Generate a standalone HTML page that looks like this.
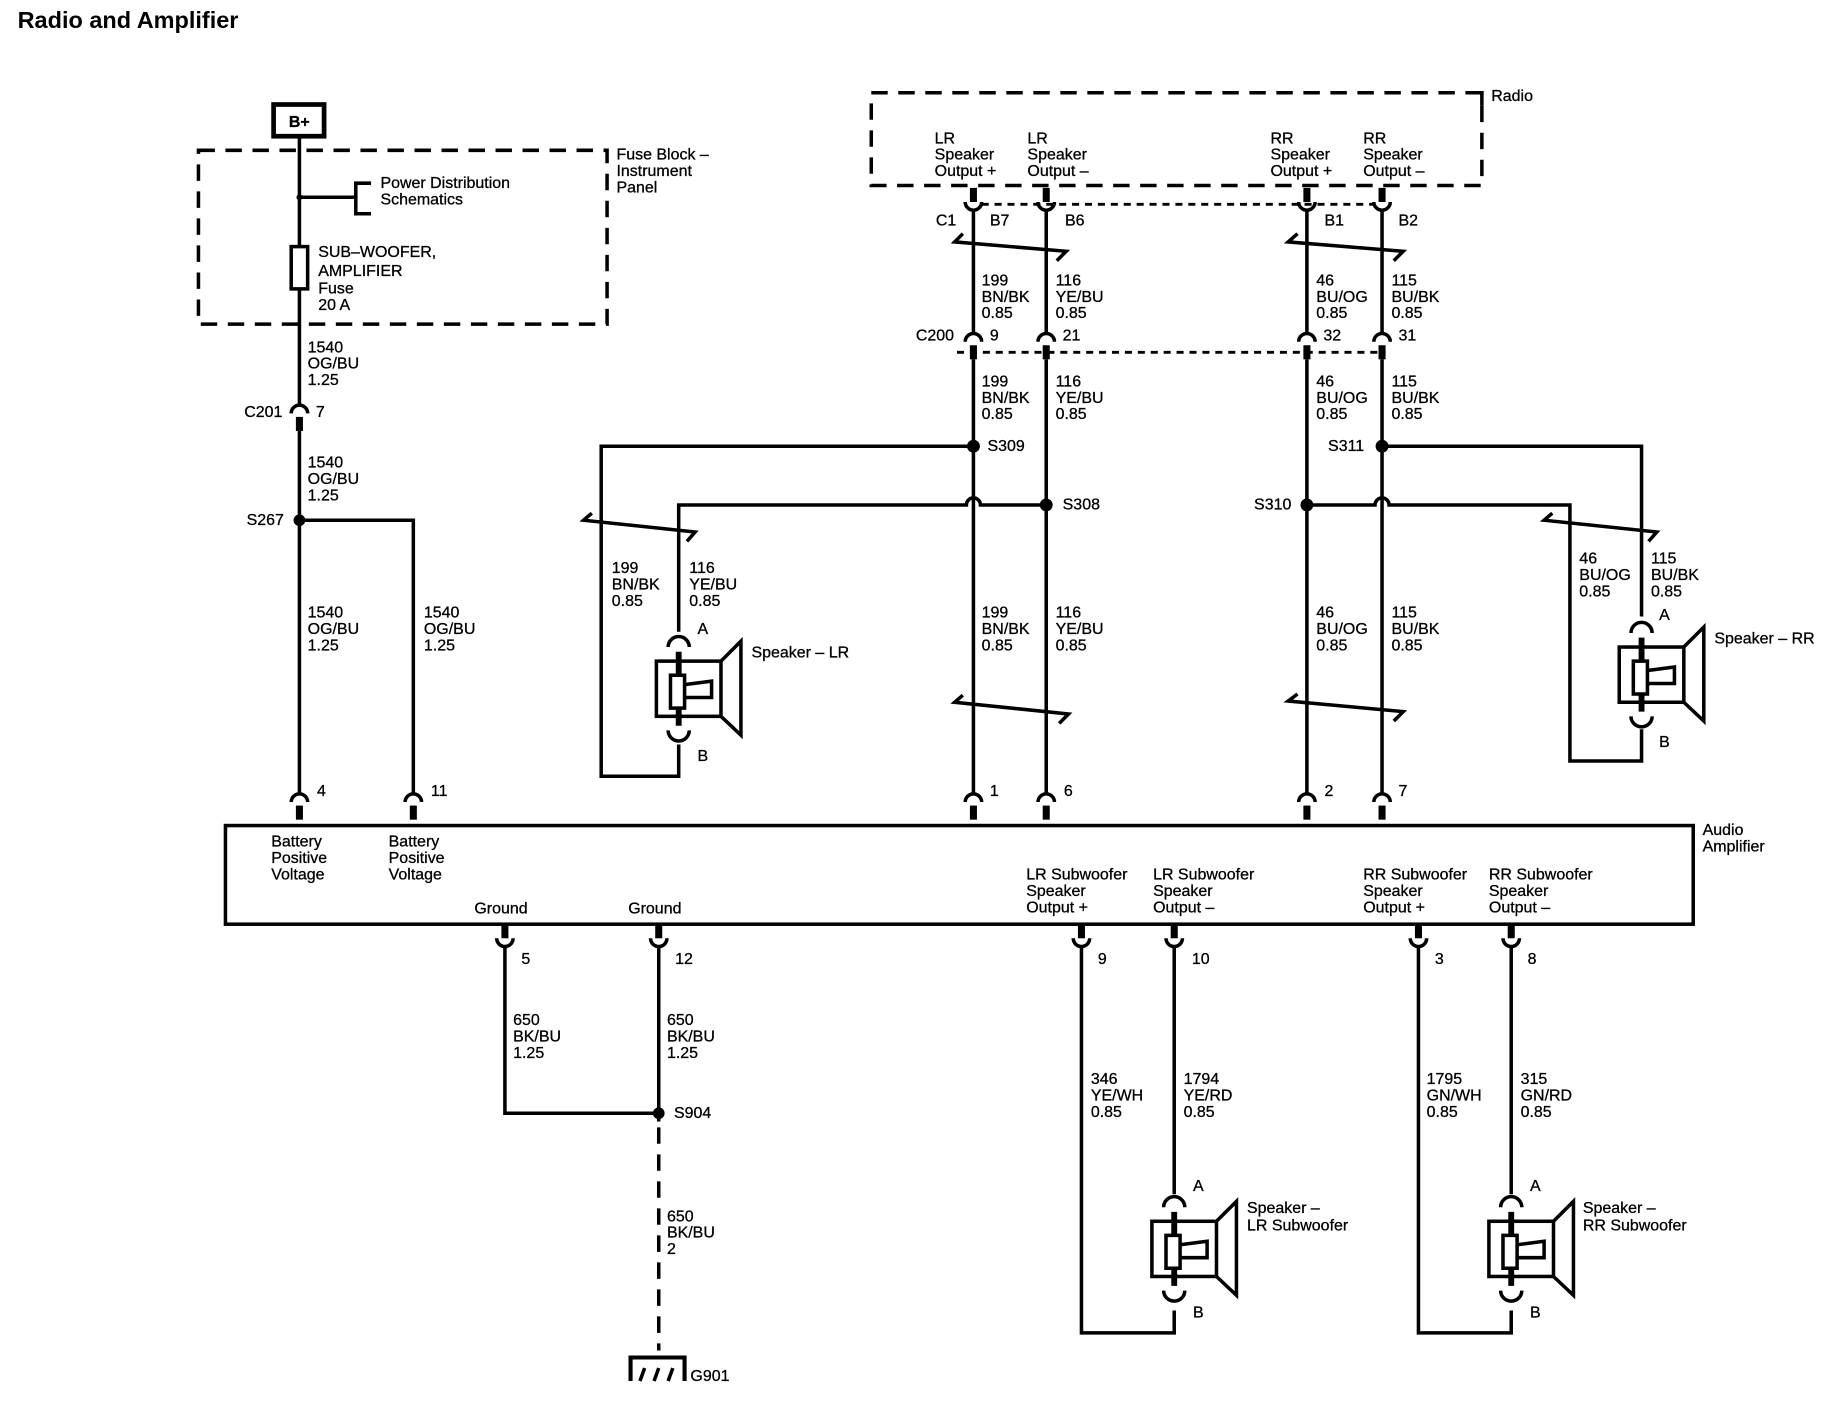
<!DOCTYPE html>
<html><head><meta charset="utf-8"><style>
html,body{margin:0;padding:0;background:#fff;}
svg{display:block;}
text{font-family:"Liberation Sans",sans-serif;font-size:13.6px;fill:#000;stroke:#000;stroke-width:0.25;}
.w{stroke:#000;stroke-width:3;fill:none;}
.st{stroke:#000;stroke-width:6;fill:none;}
.d{stroke:#000;stroke-width:3;fill:none;stroke-dasharray:14 9;}
.dt{stroke:#000;stroke-width:2.5;fill:none;stroke-dasharray:6 5;}
</style></head><body>
<svg width="1840" height="1408" viewBox="0 0 1567 1199" preserveAspectRatio="none" xmlns="http://www.w3.org/2000/svg">
<defs>
<g id="spk">
<path class="w" d="M-9,-12 A9,9 0 0 1 9,-12"/>
<line x1="0" y1="-8" x2="0" y2="55" stroke="#000" stroke-width="5"/>
<rect x="-19" y="0" width="55" height="47" class="w"/>
<rect x="-7" y="12" width="12" height="28" fill="#fff" stroke="#000" stroke-width="3"/>
<path d="M5,20 L28,17 L28,31 L5,31" class="w"/>
<path d="M36,0 L53,-17 L53,63 L36,47" class="w"/>
<path class="w" d="M-9,59 A9,9 0 0 0 9,59"/>
</g>
<g id="ctop"><path class="w" d="M-7,5 A7,7 0 0 1 7,5"/><line x1="0" y1="8" x2="0" y2="20" class="st"/></g>
<g id="cbot"><line x1="0" y1="0" x2="0" y2="12" class="st"/><path class="w" d="M-7,12 A7,7 0 0 0 7,12"/></g>
</defs>

<text x="15" y="24" style="font-size:20px;font-weight:bold;stroke-width:0">Radio and Amplifier</text>

<!-- B+ -->
<rect x="233" y="89" width="43" height="27" fill="none" stroke="#000" stroke-width="4"/>
<text x="246" y="108" style="font-weight:bold">B+</text>
<rect x="169" y="128" width="348" height="148" class="d"/>
<text x="525" y="136">Fuse Block –</text><text x="525" y="150">Instrument</text><text x="525" y="164">Panel</text>
<line x1="255" y1="117" x2="255" y2="345" class="w"/>
<circle cx="255" cy="168" r="2.5"/>
<line x1="255" y1="168" x2="303" y2="168" class="w"/>
<path d="M316,156 L303,156 L303,182 L316,182" class="w"/>
<text x="324" y="160">Power Distribution</text><text x="324" y="174">Schematics</text>
<rect x="248" y="210" width="14" height="36" fill="#fff" stroke="#000" stroke-width="3"/>
<text x="271" y="219">SUB–WOOFER,</text><text x="271" y="235">AMPLIFIER</text><text x="271" y="250">Fuse</text><text x="271" y="264">20 A</text>
<text x="262" y="300">1540</text><text x="262" y="314">OG/BU</text><text x="262" y="328">1.25</text>
<use href="#ctop" x="255" y="347"/>
<text x="208" y="355">C201</text><text x="269" y="355">7</text>
<line x1="255" y1="367" x2="255" y2="676" class="w"/>
<text x="262" y="398">1540</text><text x="262" y="412">OG/BU</text><text x="262" y="426">1.25</text>
<circle cx="255" cy="443" r="5"/>
<text x="210" y="447">S267</text>
<path d="M255,443 L352,443 L352,676" class="w"/>
<text x="262" y="526">1540</text><text x="262" y="540">OG/BU</text><text x="262" y="554">1.25</text>
<text x="361" y="526">1540</text><text x="361" y="540">OG/BU</text><text x="361" y="554">1.25</text>
<use href="#ctop" x="255" y="678"/><text x="270" y="678">4</text>
<use href="#ctop" x="352" y="678"/><text x="367" y="678">11</text>

<!-- Amplifier -->
<rect x="192" y="703" width="1250" height="84" class="w"/>
<text x="1450" y="711">Audio</text><text x="1450" y="725">Amplifier</text>
<text x="231" y="721">Battery</text><text x="231" y="735">Positive</text><text x="231" y="749">Voltage</text>
<text x="331" y="721">Battery</text><text x="331" y="735">Positive</text><text x="331" y="749">Voltage</text>
<text x="404" y="778">Ground</text><text x="535" y="778">Ground</text>
<text x="874" y="749">LR Subwoofer</text><text x="874" y="763">Speaker</text><text x="874" y="777">Output +</text>
<text x="982" y="749">LR Subwoofer</text><text x="982" y="763">Speaker</text><text x="982" y="777">Output –</text>
<text x="1161" y="749">RR Subwoofer</text><text x="1161" y="763">Speaker</text><text x="1161" y="777">Output +</text>
<text x="1268" y="749">RR Subwoofer</text><text x="1268" y="763">Speaker</text><text x="1268" y="777">Output –</text>

<!-- Grounds -->
<use href="#cbot" x="430" y="787"/><text x="444" y="821">5</text>
<use href="#cbot" x="561" y="787"/><text x="575" y="821">12</text>
<path d="M430,806 L430,948 L561,948" class="w"/>
<line x1="561" y1="806" x2="561" y2="955" class="w"/>
<circle cx="561" cy="948" r="5"/>
<text x="574" y="952">S904</text>
<text x="437" y="873">650</text><text x="437" y="887">BK/BU</text><text x="437" y="901">1.25</text>
<text x="568" y="873">650</text><text x="568" y="887">BK/BU</text><text x="568" y="901">1.25</text>
<line x1="561" y1="960" x2="561" y2="1150" stroke="#000" stroke-width="3" stroke-dasharray="14 9"/>
<text x="568" y="1040">650</text><text x="568" y="1054">BK/BU</text><text x="568" y="1068">2</text>
<path d="M537,1176 L537,1156 L583,1156 L583,1176" stroke="#000" stroke-width="3.5" fill="none"/>
<path d="M545,1176 L549,1165 M557,1176 L561,1165 M569,1176 L573,1165" stroke="#000" stroke-width="3" fill="none"/>
<text x="588" y="1176">G901</text>

<!-- Radio -->
<path d="M1262,79 L742,79 L742,158 L1262,158 L1262,79" class="d"/>
<path d="M1256,79 L1262,79 L1262,90" stroke="#000" stroke-width="3" fill="none"/>
<text x="1270" y="86">Radio</text>
<text x="796" y="122">LR</text><text x="796" y="136">Speaker</text><text x="796" y="150">Output +</text>
<text x="875" y="122">LR</text><text x="875" y="136">Speaker</text><text x="875" y="150">Output –</text>
<text x="1082" y="122">RR</text><text x="1082" y="136">Speaker</text><text x="1082" y="150">Output +</text>
<text x="1161" y="122">RR</text><text x="1161" y="136">Speaker</text><text x="1161" y="150">Output –</text>
<line x1="836" y1="174" x2="1170" y2="174" class="dt"/>
<use href="#cbot" x="829" y="160"/><use href="#cbot" x="891" y="160"/><use href="#cbot" x="1113" y="160"/><use href="#cbot" x="1177" y="160"/>
<text x="797" y="192">C1</text><text x="843" y="192">B7</text><text x="907" y="192">B6</text><text x="1128" y="192">B1</text><text x="1191" y="192">B2</text>
<line x1="829" y1="179" x2="829" y2="284" class="w"/>
<line x1="891" y1="179" x2="891" y2="284" class="w"/>
<line x1="1113" y1="179" x2="1113" y2="284" class="w"/>
<line x1="1177" y1="179" x2="1177" y2="284" class="w"/>
<path d="M820,199 L813,206 L908,214 L900,222" class="w"/>
<path d="M1105,199 L1097,206 L1195,214 L1187,222" class="w"/>
<text x="836" y="243">199</text><text x="836" y="257">BN/BK</text><text x="836" y="271">0.85</text>
<text x="899" y="243">116</text><text x="899" y="257">YE/BU</text><text x="899" y="271">0.85</text>
<text x="1121" y="243">46</text><text x="1121" y="257">BU/OG</text><text x="1121" y="271">0.85</text>
<text x="1185" y="243">115</text><text x="1185" y="257">BU/BK</text><text x="1185" y="271">0.85</text>
<line x1="815" y1="300" x2="1180" y2="300" class="dt"/>
<use href="#ctop" x="829" y="286"/><use href="#ctop" x="891" y="286"/><use href="#ctop" x="1113" y="286"/><use href="#ctop" x="1177" y="286"/>
<text x="780" y="290">C200</text><text x="843" y="290">9</text><text x="905" y="290">21</text><text x="1127" y="290">32</text><text x="1191" y="290">31</text>
<text x="836" y="329">199</text><text x="836" y="343">BN/BK</text><text x="836" y="357">0.85</text>
<text x="899" y="329">116</text><text x="899" y="343">YE/BU</text><text x="899" y="357">0.85</text>
<text x="1121" y="329">46</text><text x="1121" y="343">BU/OG</text><text x="1121" y="357">0.85</text>
<text x="1185" y="329">115</text><text x="1185" y="343">BU/BK</text><text x="1185" y="357">0.85</text>

<line x1="829" y1="306" x2="829" y2="676" class="w"/>
<line x1="891" y1="306" x2="891" y2="676" class="w"/>
<line x1="1113" y1="306" x2="1113" y2="676" class="w"/>
<line x1="1177" y1="306" x2="1177" y2="676" class="w"/>

<!-- LR speaker wiring -->
<circle cx="829" cy="380" r="5.5"/><text x="841" y="384">S309</text>
<path d="M829,380 L512,380 L512,661 L578,661 L578,634" class="w"/>
<circle cx="891" cy="430" r="5.5"/><text x="905" y="434">S308</text>
<path d="M891,430 L835,430 A6,6 0 0 0 823,430 L578,430 L578,538" class="w"/>
<path d="M504,437 L497,443 L592,453 L585,461" class="w"/>
<text x="521" y="488">199</text><text x="521" y="502">BN/BK</text><text x="521" y="516">0.85</text>
<text x="587" y="488">116</text><text x="587" y="502">YE/BU</text><text x="587" y="516">0.85</text>
<use href="#spk" x="578" y="563"/>
<text x="594" y="540">A</text><text x="594" y="648">B</text>
<text x="640" y="560">Speaker – LR</text>

<!-- RR speaker wiring -->
<circle cx="1177" cy="380" r="5.5"/><text x="1131" y="384">S311</text>
<path d="M1177,380 L1398,380 L1398,525" class="w"/>
<circle cx="1113" cy="430" r="5.5"/><text x="1068" y="434">S310</text>
<path d="M1113,430 L1171,430 A6,6 0 0 1 1183,430 L1337,430 L1337,648 L1398,648 L1398,621" class="w"/>
<path d="M1322,437 L1315,443 L1411,453 L1404,461" class="w"/>
<text x="1345" y="480">46</text><text x="1345" y="494">BU/OG</text><text x="1345" y="508">0.85</text>
<text x="1406" y="480">115</text><text x="1406" y="494">BU/BK</text><text x="1406" y="508">0.85</text>
<use href="#spk" x="1398" y="551"/>
<text x="1413" y="528">A</text><text x="1413" y="636">B</text>
<text x="1460" y="548">Speaker – RR</text>

<!-- lower main labels -->
<text x="836" y="526">199</text><text x="836" y="540">BN/BK</text><text x="836" y="554">0.85</text>
<text x="899" y="526">116</text><text x="899" y="540">YE/BU</text><text x="899" y="554">0.85</text>
<text x="1121" y="526">46</text><text x="1121" y="540">BU/OG</text><text x="1121" y="554">0.85</text>
<text x="1185" y="526">115</text><text x="1185" y="540">BU/BK</text><text x="1185" y="554">0.85</text>
<path d="M820,592 L813,598 L910,608 L902,616" class="w"/>
<path d="M1105,591 L1097,597 L1195,606 L1187,614" class="w"/>
<use href="#ctop" x="829" y="678"/><use href="#ctop" x="891" y="678"/><use href="#ctop" x="1113" y="678"/><use href="#ctop" x="1177" y="678"/>
<text x="843" y="678">1</text><text x="906" y="678">6</text><text x="1128" y="678">2</text><text x="1191" y="678">7</text>

<!-- Subwoofers -->
<use href="#cbot" x="921" y="787"/><text x="935" y="821">9</text>
<use href="#cbot" x="1000" y="787"/><text x="1015" y="821">10</text>
<use href="#cbot" x="1208" y="787"/><text x="1222" y="821">3</text>
<use href="#cbot" x="1287" y="787"/><text x="1301" y="821">8</text>
<path d="M921,806 L921,1135 L1000,1135 L1000,1116" class="w"/>
<line x1="1000" y1="806" x2="1000" y2="1017" class="w"/>
<path d="M1208,806 L1208,1135 L1287,1135 L1287,1116" class="w"/>
<line x1="1287" y1="806" x2="1287" y2="1017" class="w"/>
<text x="929" y="923">346</text><text x="929" y="937">YE/WH</text><text x="929" y="951">0.85</text>
<text x="1008" y="923">1794</text><text x="1008" y="937">YE/RD</text><text x="1008" y="951">0.85</text>
<text x="1215" y="923">1795</text><text x="1215" y="937">GN/WH</text><text x="1215" y="951">0.85</text>
<text x="1295" y="923">315</text><text x="1295" y="937">GN/RD</text><text x="1295" y="951">0.85</text>
<use href="#spk" x="1000" y="1040"/>
<use href="#spk" x="1287" y="1040"/>
<text x="1016" y="1014">A</text><text x="1016" y="1122">B</text>
<text x="1303" y="1014">A</text><text x="1303" y="1122">B</text>
<text x="1062" y="1033">Speaker –</text><text x="1062" y="1048">LR Subwoofer</text>
<text x="1348" y="1033">Speaker –</text><text x="1348" y="1048">RR Subwoofer</text>
</svg>
</body></html>
